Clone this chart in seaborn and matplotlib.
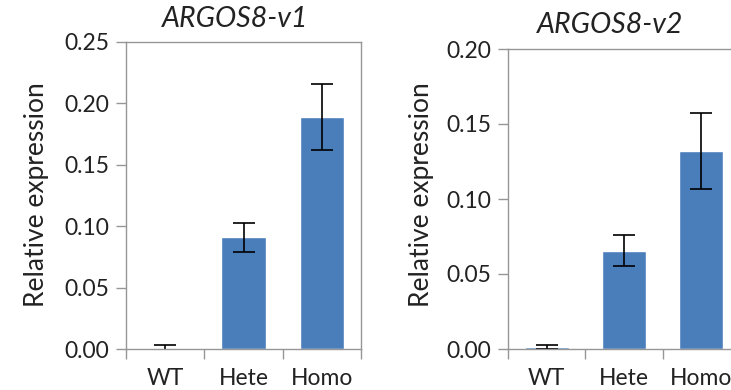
import matplotlib
matplotlib.use("Agg")
import matplotlib.pyplot as plt
import seaborn as sns
import pandas as pd
import numpy as np

sns.set_style("white")
plt.rcParams['font.family'] = ['Lato', 'DejaVu Sans']

categories = ["WT", "Hete", "Homo"]
v1_values = [0.001, 0.091, 0.189]
v1_errors = [0.002, 0.012, 0.027]
v2_values = [0.0015, 0.0655, 0.132]
v2_errors = [0.0015, 0.0103, 0.0253]
v1_ticks = [0.00, 0.05, 0.10, 0.15, 0.20, 0.25]
v2_ticks = [0.00, 0.05, 0.10, 0.15, 0.20]
titles = ["ARGOS8-v1", "ARGOS8-v2"]
ylabel = "Relative expression"

W, H = 731, 390
fig = plt.figure(figsize=(W / 100, H / 100), dpi=100)

bar_color = "#4a7ebb"
spine_color = "#969696"

def px_axes(left, top, right, bottom):
    return fig.add_axes([left / W, 1 - bottom / H, (right - left) / W, (bottom - top) / H])

ax1 = px_axes(126, 42, 361, 349)
ax2 = px_axes(508, 49, 740, 349)

# (axes, values, errors, ticks, title, title centre x px, title baseline y px, ylabel x px)
panels = [
    (ax1, v1_values, v1_errors, v1_ticks, titles[0], 235, 27, 37),
    (ax2, v2_values, v2_errors, v2_ticks, titles[1], 610, 33, 422),
]

for ax, vals, errs, ticks, title, tx, ty, ylx in panels:
    df = pd.DataFrame({"cat": categories, "val": vals})
    sns.barplot(data=df, x="cat", y="val", ax=ax, color=bar_color,
                saturation=1, width=0.57, errorbar=None)
    ax.errorbar(np.arange(len(categories)), vals, yerr=errs, fmt="none",
                ecolor="black", elinewidth=1.2, capsize=8, capthick=1.2)
    ax.set_xlim(-0.5, len(categories) - 0.5)
    ax.set_ylim(ticks[0], ticks[-1])
    ax.set_yticks(ticks)
    ax.set_yticklabels([f"{t:.2f}" for t in ticks])
    ax.set_xticks(np.arange(len(categories) + 1) - 0.5)
    ax.set_xticklabels([])
    ax.set_xticks(np.arange(len(categories)), minor=True)
    ax.set_xticklabels(categories, minor=True)
    ax.tick_params(axis="x", which="major", direction="out", length=7,
                   width=1, color=spine_color, bottom=True)
    ax.tick_params(axis="x", which="minor", length=0, labelsize=16.5,
                   pad=14, labelcolor="#222222")
    ax.tick_params(axis="y", direction="out", length=7, width=1,
                   color=spine_color, left=True, labelsize=16.5, pad=5,
                   labelcolor="#222222")
    for s in ax.spines.values():
        s.set_visible(True)
        s.set_color(spine_color)
        s.set_linewidth(1.0)
    ax.set_xlabel("")
    ax.set_ylabel("")
    fig.text(tx / W, 1 - ty / H, title, ha="center", va="baseline",
             fontsize=20.5, style="italic", color="#222222")
    fig.text(ylx / W, 1 - 195 / H, ylabel, rotation=90, ha="center",
             va="center", fontsize=19, color="#222222")

fig.savefig("out.png", dpi=100, facecolor="white")
